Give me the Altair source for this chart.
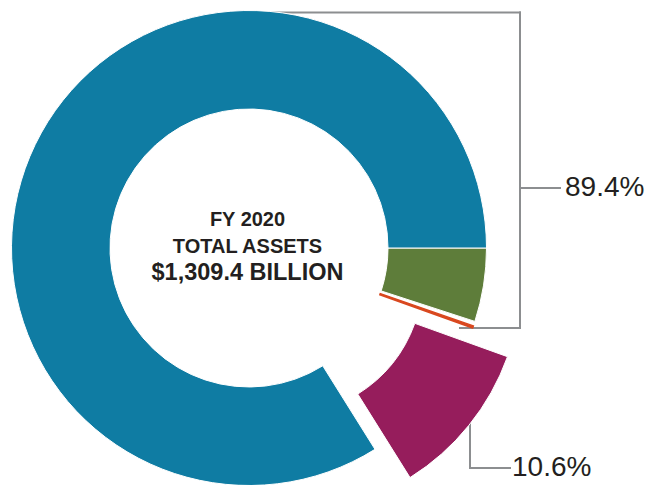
import altair as alt
import pandas as pd

# ---------------- data ----------------
# slices listed clockwise, starting at 3 o'clock
segments = ["Segment A", "Segment B", "Segment C", "Segment D"]
shares = [5.0, 0.5, 10.6, 83.9]          # percent of total assets
bracket_labels = ["89.4%", "10.6%"]
center_lines = ["FY 2020", "TOTAL ASSETS", "$1,309.4 BILLION"]

# ---------------- style / layout ----------------
colors = ["#5e7d3a", "#d9481f", "#961d5c", "#0f7ca3"]
explode_px = [0, 0, 45, 0]
W, H = 647, 485
CX, CY = 249, 248
R_OUT, R_IN = 237.5, 139
GRAY = "#8c8e90"
INK = "#231f20"
FONT = "Liberation Sans"

df = pd.DataFrame({
    "segment": segments,
    "share": shares,
    "order": list(range(len(segments))),
    "explode": explode_px,
})

base = (
    alt.Chart(df)
    .transform_window(cum="sum(share)", sort=[alt.SortField("order", order="ascending")], frame=[None, 0])
    .transform_calculate(t0="PI/2 + 2*PI*(datum.cum - datum.share)/100")
    .transform_calculate(t1="PI/2 + 2*PI*datum.cum/100")
    .transform_calculate(mid="(datum.t0 + datum.t1)/2")
    .transform_calculate(cx=f"{CX} + datum.explode*sin(datum.mid)")
    .transform_calculate(cy=f"{CY} - datum.explode*cos(datum.mid)")
)

enc = dict(
    theta=alt.Theta("t0:Q", scale=None, stack=None),
    theta2=alt.Theta2("t1:Q"),
    x=alt.X("cx:Q", scale=None, axis=None),
    y=alt.Y("cy:Q", scale=None, axis=None),
    color=alt.Color("segment:N", scale=alt.Scale(domain=segments, range=colors), legend=None),
)

main_arcs = base.transform_filter(alt.datum.segment != segments[1]).mark_arc(
    innerRadius=R_IN, outerRadius=R_OUT, stroke="white", strokeWidth=1
).encode(**enc)

thin_arc = base.transform_filter(alt.datum.segment == segments[1]).mark_arc(
    innerRadius=R_IN, outerRadius=R_OUT, thetaOffset=0.02, theta2Offset=-0.002,
    stroke=colors[1], strokeWidth=1.5
).encode(**enc)

# bracket annotation lines (layout)
seg_df = pd.DataFrame({
    "x1": [249, 520, 460, 520, 470, 470],
    "x2": [520, 520, 520, 560, 470, 510],
    "y1": [12.5, 12.5, 328, 188, 400, 468],
    "y2": [12.5, 328, 328, 188, 468, 468],
})
brackets = alt.Chart(seg_df).mark_rule(color=GRAY, strokeWidth=2, strokeCap="square").encode(
    x=alt.X("x1:Q", scale=None, axis=None),
    x2="x2:Q",
    y=alt.Y("y1:Q", scale=None, axis=None),
    y2="y2:Q",
)

lab_df = pd.DataFrame({"label": bracket_labels, "px": [565, 512], "py": [188, 468]})
labels = alt.Chart(lab_df).mark_text(
    align="left", baseline="middle", font=FONT, fontSize=28, color=INK
).encode(
    x=alt.X("px:Q", scale=None, axis=None),
    y=alt.Y("py:Q", scale=None, axis=None),
    text="label:N",
)

ctr_df = pd.DataFrame({"line": center_lines, "px": [247.5] * 3, "py": [226, 253, 280], "fs": [20, 20, 23.5]})
center_text = alt.Chart(ctr_df).mark_text(
    align="center", baseline="alphabetic", font=FONT, fontWeight="bold", color=INK
).encode(
    x=alt.X("px:Q", scale=None, axis=None),
    y=alt.Y("py:Q", scale=None, axis=None),
    text="line:N",
    size=alt.Size("fs:Q", scale=None, legend=None),
)

chart = (
    alt.layer(brackets, main_arcs, thin_arc, labels, center_text)
    .properties(width=W, height=H, autosize="none", padding=0, background="white")
    .configure_view(stroke=None)
)

chart.save("out.html", embed_options={"renderer": "svg", "actions": False})
